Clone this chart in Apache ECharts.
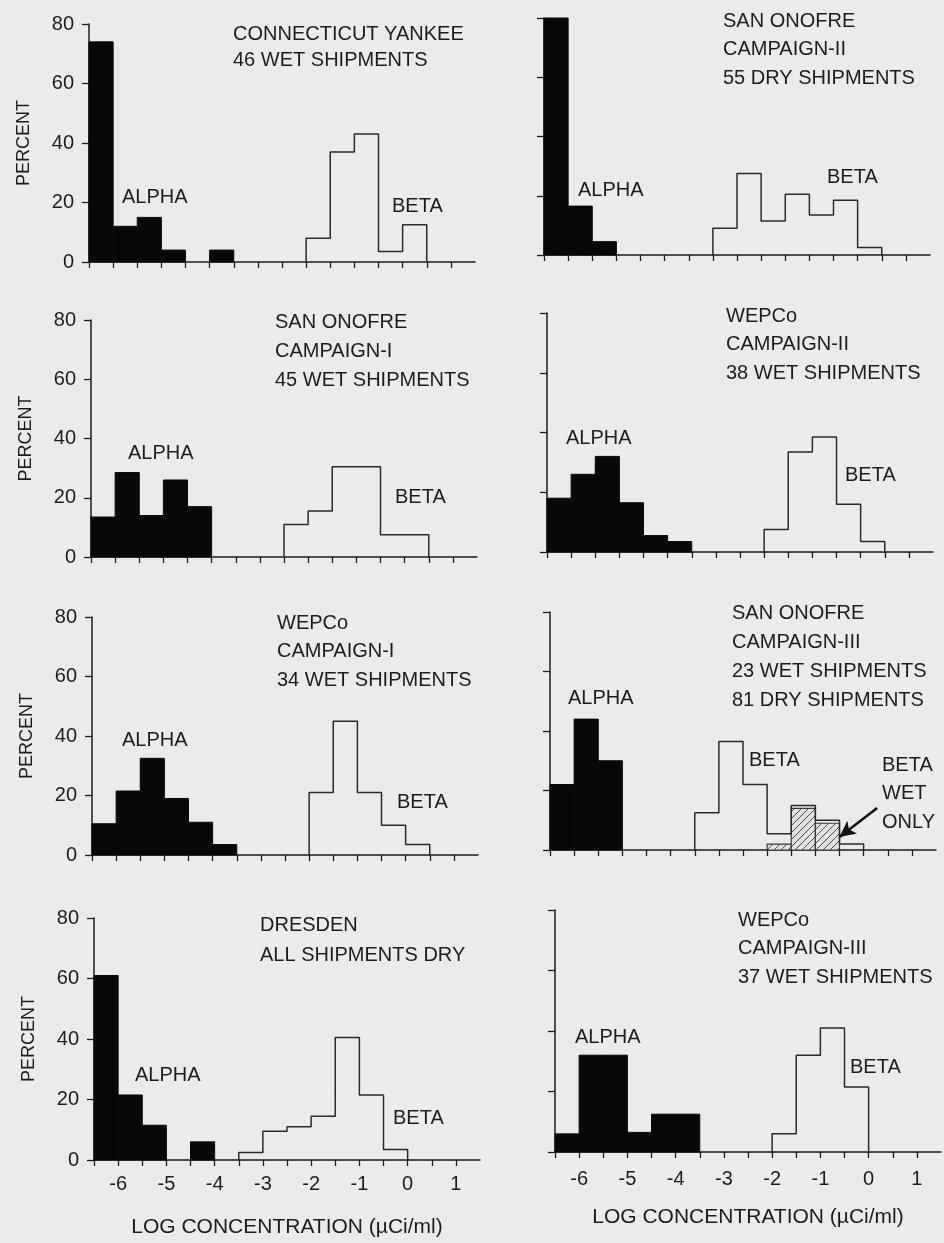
<!DOCTYPE html>
<html>
<head>
<meta charset="utf-8">
<script src="https://cdn.jsdelivr.net/npm/echarts@6/dist/echarts.min.js"></script>
<style>
html,body{margin:0;padding:0;background:#ebebe9;}
#c{width:944px;height:1243px;}
</style>
</head>
<body>
<div id="c"></div>
<script>
// ---------------- DATA ----------------
const BIN_WIDTH = 0.5;
const xTickValues = [-6.5,-6,-5.5,-5,-4.5,-4,-3.5,-3,-2.5,-2,-1.5,-1,-0.5,0,0.5,1];
const xTickLabels = [-6,-5,-4,-3,-2,-1,0,1];
const yTickLabels = [0,20,40,60,80];
const xAxisTitle = 'LOG CONCENTRATION (\u00b5Ci/ml)';
const yAxisTitle = 'PERCENT';
const alphaLabel = 'ALPHA';
const betaLabel = 'BETA';
const wetOnlyLabel = ['BETA','WET','ONLY'];

// Connecticut Yankee
const cyTitle = ['CONNECTICUT YANKEE','46 WET SHIPMENTS'];
const cyAlphaBins = [-6.5,-6,-5.5,-5,-4];
const cyAlpha = [74,12,15,4,4];
const cyBetaBins = [-2,-1.5,-1,-0.5,0];
const cyBeta = [8,37,43,3.5,12.5];

// San Onofre Campaign-II
const so2Title = ['SAN ONOFRE','CAMPAIGN-II','55 DRY SHIPMENTS'];
const so2AlphaBins = [-6.5,-6,-5.5];
const so2Alpha = [80,16.5,4.5];
const so2BetaBins = [-3,-2.5,-2,-1.5,-1,-0.5,0];
const so2Beta = [9,27.5,11.5,20.5,13.5,18.5,2.5];

// San Onofre Campaign-I
const so1Title = ['SAN ONOFRE','CAMPAIGN-I','45 WET SHIPMENTS'];
const so1AlphaBins = [-6.5,-6,-5.5,-5,-4.5];
const so1Alpha = [13.5,28.5,14,26,17];
const so1BetaBins = [-2.5,-2,-1.5,-1,-0.5,0];
const so1Beta = [11,15.5,30.5,30.5,7.5,7.5];

// WEPCo Campaign-II
const we2Title = ['WEPCo','CAMPAIGN-II','38 WET SHIPMENTS'];
const we2AlphaBins = [-6.5,-6,-5.5,-5,-4.5,-4];
const we2Alpha = [18,26,32,16.5,5.5,3.5];
const we2BetaBins = [-2,-1.5,-1,-0.5,0];
const we2Beta = [7.5,33.5,38.5,16,3.5];

// WEPCo Campaign-I
const we1Title = ['WEPCo','CAMPAIGN-I','34 WET SHIPMENTS'];
const we1AlphaBins = [-6.5,-6,-5.5,-5,-4.5,-4];
const we1Alpha = [10.5,21.5,32.5,19,11,3.5];
const we1BetaBins = [-2,-1.5,-1,-0.5,0];
const we1Beta = [21,45,21,10,3.5];

// San Onofre Campaign-III
const so3Title = ['SAN ONOFRE','CAMPAIGN-III','23 WET SHIPMENTS','81 DRY SHIPMENTS'];
const so3AlphaBins = [-6.5,-6,-5.5];
const so3Alpha = [22,44,30];
const so3BetaBins = [-3.5,-3,-2.5,-2,-1.5,-1,-0.5];
const so3Beta = [12.5,36.5,22,5.5,15,10,2];
const so3WetBins = [-2,-1.5,-1];
const so3Wet = [2,14,9];

// Dresden
const drTitle = ['DRESDEN','ALL SHIPMENTS DRY'];
const drAlphaBins = [-6.5,-6,-5.5,-4.5];
const drAlpha = [61,21.5,11.5,6];
const drBetaBins = [-3.5,-3,-2.5,-2,-1.5,-1,-0.5];
const drBeta = [2.5,9.5,11,14.5,40.5,21.5,3.5];

// WEPCo Campaign-III
const we3Title = ['WEPCo','CAMPAIGN-III','37 WET SHIPMENTS'];
const we3AlphaBins = [-6.5,-6,-5.5,-5,-4.5,-4];
const we3Alpha = [6,32,32,6.5,12.5,12.5];
const we3BetaBins = [-2,-1.5,-1,-0.5];
const we3Beta = [6,32,41,21.5];

// ---------------- LAYOUT / STYLE ----------------
const INK = '#1c1c1c';
const FONT = '"Liberation Sans", Arial, "DejaVu Sans", sans-serif';
const PLOT_W = 386;

const panels = [
  {title:cyTitle, aB:cyAlphaBins, a:cyAlpha, bB:cyBetaBins, b:cyBeta,
   grid:{left:89, top:24, height:238}, tx:233, ty:34, lh:26, al:[122,197], bl:[392,206], leftCol:true, bottom:false},
  {title:so2Title, aB:so2AlphaBins, a:so2Alpha, bB:so2BetaBins, b:so2Beta,
   grid:{left:544, top:18, height:237}, tx:723, ty:21, lh:28.5, al:[578,190], bl:[827,177], leftCol:false, bottom:false},
  {title:so1Title, aB:so1AlphaBins, a:so1Alpha, bB:so1BetaBins, b:so1Beta,
   grid:{left:91, top:320, height:237}, tx:275, ty:322, lh:29, al:[128,453], bl:[395,497], leftCol:true, bottom:false},
  {title:we2Title, aB:we2AlphaBins, a:we2Alpha, bB:we2BetaBins, b:we2Beta,
   grid:{left:547, top:313, height:239}, tx:726, ty:316, lh:28.5, al:[566,438], bl:[845,475], leftCol:false, bottom:false},
  {title:we1Title, aB:we1AlphaBins, a:we1Alpha, bB:we1BetaBins, b:we1Beta,
   grid:{left:92, top:617, height:238}, tx:277, ty:623, lh:28.5, al:[122,740], bl:[397,802], leftCol:true, bottom:false},
  {title:so3Title, aB:so3AlphaBins, a:so3Alpha, bB:so3BetaBins, b:so3Beta, wB:so3WetBins, w:so3Wet,
   grid:{left:550, top:612, height:238}, tx:732, ty:613, lh:29, al:[568,698], bl:[749,760], leftCol:false, bottom:false},
  {title:drTitle, aB:drAlphaBins, a:drAlpha, bB:drBetaBins, b:drBeta,
   grid:{left:94, top:918, height:242}, tx:260, ty:925, lh:30, al:[135,1075], bl:[393,1118], leftCol:true, bottom:true, nameGap:57, labelMargin:14},
  {title:we3Title, aB:we3AlphaBins, a:we3Alpha, bB:we3BetaBins, b:we3Beta,
   grid:{left:555, top:910, height:242}, tx:738, ty:920, lh:28.5, al:[575,1037], bl:[850,1067], leftCol:false, bottom:true, nameGap:55, labelMargin:17}
];

// hatch pattern for "BETA WET ONLY"
function makeHatch(){
  const c = document.createElement('canvas');
  c.width = 7; c.height = 7;
  const g = c.getContext('2d');
  g.fillStyle = '#e2e2e0'; g.fillRect(0,0,7,7);
  g.strokeStyle = '#4a4a4a'; g.lineWidth = 1;
  g.beginPath();
  g.moveTo(0,7); g.lineTo(7,0);
  g.moveTo(-1,1); g.lineTo(1,-1);
  g.moveTo(6,8); g.lineTo(8,6);
  g.stroke();
  return c;
}
const hatchPattern = {image: makeHatch(), repeat: 'repeat'};

function rectRenderer(style){
  return function(params, api){
    const x0 = api.value(0), v = api.value(1);
    const p0 = api.coord([x0, 0]);
    const p1 = api.coord([x0 + BIN_WIDTH, v]);
    return {
      type:'rect',
      shape:{x:p0[0], y:p1[1], width:p1[0]-p0[0], height:p0[1]-p1[1]},
      style: Object.assign({}, style)
    };
  };
}

function stepOutline(bins, vals){
  const pts = [[bins[0], 0]];
  bins.forEach((b,i)=>{ pts.push([b + BIN_WIDTH, vals[i]]); });
  pts.push([bins[bins.length-1] + BIN_WIDTH, 0]);
  return pts;
}

const grids = [], xAxes = [], yAxes = [], series = [], graphics = [];

function addText(text, x, y, size, extra){
  graphics.push({
    type:'text', x:x, y:y, silent:true, z:100,
    style:Object.assign({text:text, fill:INK, fontSize:size, fontFamily:FONT,
      align:'left', verticalAlign:'middle'}, extra||{})
  });
}

panels.forEach((p, i)=>{
  grids.push({left:p.grid.left, top:p.grid.top, width:PLOT_W, height:p.grid.height,
    containLabel:false, outerBoundsMode:'none'});
  xAxes.push({
    gridIndex:i, type:'value', min:-6.5, max:1.5,
    axisLine:{show:true, onZero:false, lineStyle:{color:INK, width:1.5}},
    axisTick:{show:true, customValues:xTickValues, length:6, lineStyle:{color:INK, width:1.3}},
    axisLabel:{show:p.bottom, customValues:xTickLabels, formatter:(v)=>String(v),
      margin:p.labelMargin||14, fontSize:20, color:INK, fontFamily:FONT},
    splitLine:{show:false},
    name:p.bottom ? xAxisTitle : '', nameLocation:'middle', nameGap:p.nameGap||57,
    nameTextStyle:{fontSize:21, color:INK, fontFamily:FONT}
  });
  yAxes.push({
    gridIndex:i, type:'value', min:0, max:80, interval:20,
    axisLine:{show:true, onZero:false, lineStyle:{color:INK, width:1.5}},
    axisTick:{show:true, customValues:yTickLabels, length:7, lineStyle:{color:INK, width:1.3}},
    axisLabel:{show:p.leftCol, customValues:yTickLabels, margin:15, fontSize:20, color:INK, fontFamily:FONT},
    splitLine:{show:false},
    name:p.leftCol ? yAxisTitle : '', nameLocation:'middle', nameRotate:90, nameGap:56,
    nameTextStyle:{fontSize:18, color:INK, fontFamily:FONT}
  });

  series.push({
    type:'custom', name:'ALPHA', xAxisIndex:i, yAxisIndex:i, z:3,
    encode:{x:0, y:1},
    renderItem: rectRenderer({fill:'#080808', stroke:'#080808', lineWidth:1}),
    data: p.aB.map((b,k)=>[b, p.a[k]])
  });

  if (p.wB){
    series.push({
      type:'custom', name:'BETA WET ONLY', xAxisIndex:i, yAxisIndex:i, z:3,
      encode:{x:0, y:1},
      renderItem: rectRenderer({fill:hatchPattern, stroke:'#3a3a3a', lineWidth:1.2}),
      data: p.wB.map((b,k)=>[b, p.w[k]])
    });
  }

  const betaSeries = {
    type:'line', name:'BETA', xAxisIndex:i, yAxisIndex:i, z:4,
    step:'start', symbol:'none', silent:true,
    lineStyle:{color:'#2a2a2a', width:1.5},
    data: stepOutline(p.bB, p.b)
  };
  if (p.wB){
    betaSeries.markLine = {
      silent:true, symbolSize:[12,16],
      lineStyle:{color:'#101010', width:2.5, type:'solid'},
      label:{show:false},
      data:[[{coord:[0.28,14.1], symbol:'none'},{coord:[-0.5,4.4], symbol:'arrow'}]]
    };
  }
  series.push(betaSeries);

  p.title.forEach((line, k)=> addText(line, p.tx, p.ty + k*p.lh, 20));
  addText(alphaLabel, p.al[0], p.al[1], 20);
  addText(betaLabel, p.bl[0], p.bl[1], 20);
  if (p.wB){
    wetOnlyLabel.forEach((line,k)=> addText(line, 882, 765 + k*28.5, 20));
  }
});

const chart = echarts.init(document.getElementById('c'), null, {renderer:'canvas'});
chart.setOption({
  backgroundColor:'#ebebe9',
  animation:false,
  grid:grids, xAxis:xAxes, yAxis:yAxes, series:series, graphic:graphics
});
</script>
</body>
</html>
